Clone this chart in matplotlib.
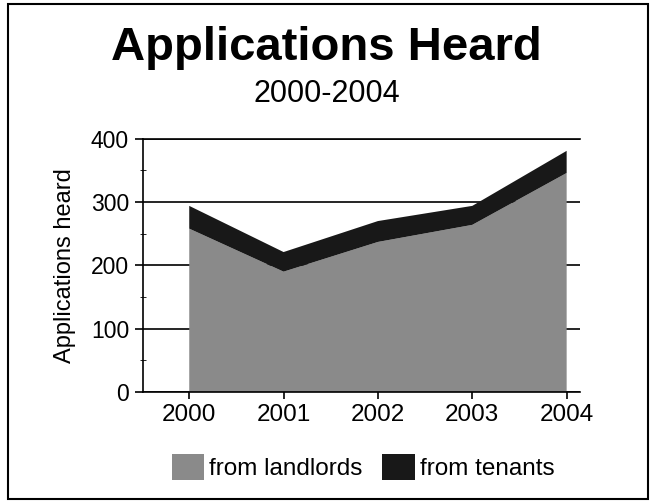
import matplotlib.pyplot as plt
import numpy as np
from matplotlib.patches import Rectangle
from matplotlib.ticker import MultipleLocator

plt.rcParams['font.family'] = ['Liberation Sans', 'DejaVu Sans']

# data
years = ['2000', '2001', '2002', '2003', '2004']
landlords = [258, 190, 237, 264, 346]
tenants = [36, 31, 33, 30, 35]

x = np.arange(len(years))

fig = plt.figure(figsize=(6.53, 5.03), dpi=100)
ax = fig.add_axes([0.219, 0.221, 0.669, 0.503])

ax.stackplot(x, landlords, tenants, colors=['#8a8a8a', '#181818'],
             labels=['from landlords', 'from tenants'])

ax.set_xlim(-0.49, 4.14)
ax.set_ylim(0, 400)
ax.set_xticks(x)
ax.set_xticklabels(years, fontsize=17.5)
ax.yaxis.set_major_locator(MultipleLocator(100))
ax.yaxis.set_minor_locator(MultipleLocator(50))
ax.tick_params(axis='y', labelsize=16.5, direction='out', length=6, width=1.2, pad=4)
ax.tick_params(axis='y', which='minor', direction='inout', length=4)
ax.tick_params(axis='x', direction='out', length=5, width=1.2, pad=4)
ax.grid(axis='y', color='black', linewidth=1.2)
ax.set_axisbelow(True)
ax.spines['right'].set_visible(False)
ax.spines['top'].set_linewidth(1.2)
ax.spines['left'].set_linewidth(1.2)
ax.spines['bottom'].set_linewidth(1.2)
ax.set_ylabel('Applications heard', fontsize=17, labelpad=11)

fig.text(0.5, 0.905, 'Applications Heard', ha='center', va='center',
         fontsize=34, fontweight='bold')
fig.text(0.5, 0.813, '2000-2004', ha='center', va='center', fontsize=22)

fig.legend(loc='center', bbox_to_anchor=(0.556, 0.072), ncol=2, frameon=False,
           fontsize=17.5, handlelength=1.35, handleheight=1.3,
           handletextpad=0.2, columnspacing=0.8)

# outer border
fig.patches.append(Rectangle((0.012, 0.008), 0.98, 0.984, transform=fig.transFigure,
                             fill=False, edgecolor='black', linewidth=1.5))

fig.savefig('out.png', dpi=100)
